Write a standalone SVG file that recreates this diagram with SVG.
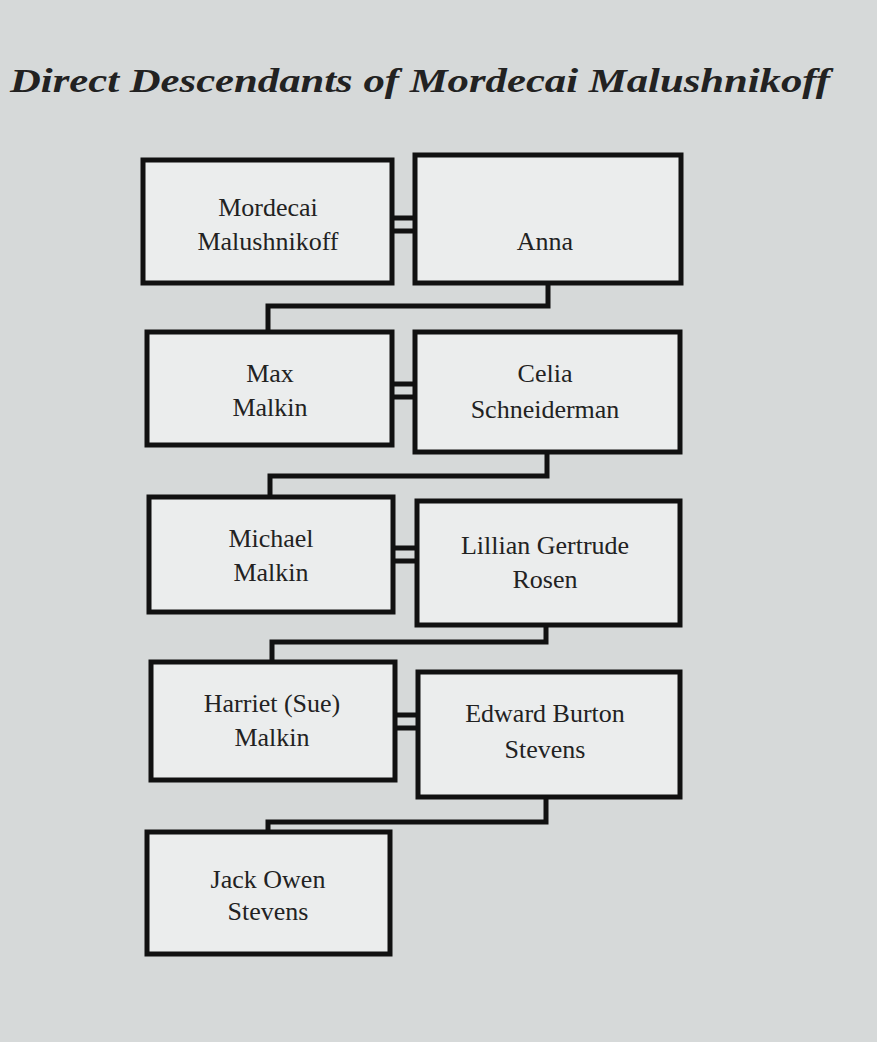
<svg xmlns="http://www.w3.org/2000/svg" width="877" height="1042" viewBox="0 0 877 1042">
<style>
.b{fill:#ebeded;stroke:#111;stroke-width:5}
.t{font-family:"Liberation Serif",serif;font-size:26px;fill:#222;text-anchor:middle}
.c{fill:none;stroke:#111;stroke-width:5}
</style>
<rect width="877" height="1042" fill="#d6d9d9"/>
<text x="10" y="92" font-family="Liberation Serif,serif" font-size="34" font-style="italic" font-weight="bold" fill="#222" textLength="820" lengthAdjust="spacingAndGlyphs">Direct Descendants of Mordecai Malushnikoff</text>
<g id="connectors">
<path class="c" d="M392 218H415M392 231H415M548 283V306H268V332"/>
<path class="c" d="M392 384H415M392 397H415M547 452V476H270V497"/>
<path class="c" d="M393 548H417M393 561H417M546 625V642H272V662"/>
<path class="c" d="M395 715H418M395 728H418M546 797V822H268V832"/>
</g>
<g id="n1"><rect class="b" x="143" y="160" width="249" height="123"/><text class="t" x="268" y="216">Mordecai</text><text class="t" x="268" y="250">Malushnikoff</text></g>
<g id="n2"><rect class="b" x="415" y="155" width="266" height="128"/><text class="t" x="545" y="250">Anna</text></g>
<g id="n3"><rect class="b" x="147" y="332" width="245" height="113"/><text class="t" x="270" y="382">Max</text><text class="t" x="270" y="416">Malkin</text></g>
<g id="n4"><rect class="b" x="415" y="332" width="265" height="120"/><text class="t" x="545" y="382">Celia</text><text class="t" x="545" y="418">Schneiderman</text></g>
<g id="n5"><rect class="b" x="149" y="497" width="244" height="115"/><text class="t" x="271" y="547">Michael</text><text class="t" x="271" y="581">Malkin</text></g>
<g id="n6"><rect class="b" x="417" y="501" width="263" height="124"/><text class="t" x="545" y="554">Lillian Gertrude</text><text class="t" x="545" y="588">Rosen</text></g>
<g id="n7"><rect class="b" x="151" y="662" width="244" height="118"/><text class="t" x="272" y="712">Harriet (Sue)</text><text class="t" x="272" y="746">Malkin</text></g>
<g id="n8"><rect class="b" x="418" y="672" width="262" height="125"/><text class="t" x="545" y="722">Edward Burton</text><text class="t" x="545" y="758">Stevens</text></g>
<g id="n9"><rect class="b" x="147" y="832" width="243" height="122"/><text class="t" x="268" y="888">Jack Owen</text><text class="t" x="268" y="920">Stevens</text></g>
</svg>
